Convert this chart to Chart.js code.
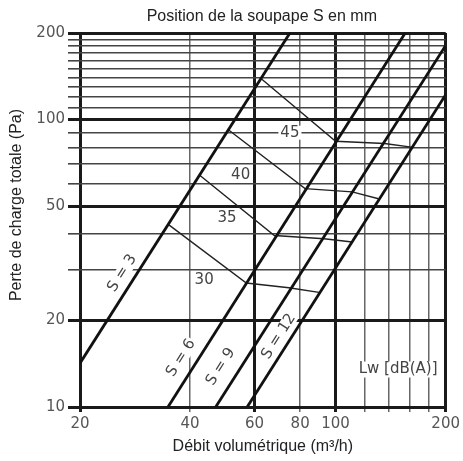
<!DOCTYPE html>
<html>
<head>
<meta charset="utf-8">
<script src="https://cdn.jsdelivr.net/npm/chart.js@4.4.0/dist/chart.umd.min.js"></script>
<style>
  body { margin: 0; background: #fff; }
  canvas { display: block; }
</style>
</head>
<body>
<canvas id="valveChart" width="463" height="461"></canvas>
<script>
// Axis ticks
const flowTicks = [20, 40, 60, 80, 100, 120, 140, 160, 180, 200];
const flowLabels = [20, 40, 60, 80, 100, 200];
const flowMajor = [20, 60, 100, 200];
const pressTicks = [10, 20, 30, 40, 50, 60, 70, 80, 90, 100, 110, 120, 130, 140, 150, 160, 170, 180, 190, 200];
const pressLabels = [10, 20, 50, 100, 200];

// Valve position lines (flow m3/h, pressure Pa)
const s3Flow = [20, 75];
const s3Press = [14.2, 200];
const s6Flow = [34.8, 155];
const s6Press = [10, 200];
const s9Flow = [47, 200];
const s9Press = [10, 181];
const s12Flow = [57.3, 200];
const s12Press = [10, 122];

// Sound power lines Lw dB(A)
const lw45Flow = [62.5, 100, 136, 163];
const lw45Press = [139, 84, 82.5, 80];
const lw40Flow = [51, 82.5, 111, 131];
const lw40Press = [92, 57.5, 56, 53];
const lw35Flow = [42.5, 68, 93, 111];
const lw35Press = [64, 39.5, 38.5, 37.5];
const lw30Flow = [35, 57, 74.5, 91];
const lw30Press = [43, 27, 26, 25];

// Label anchors
const lwNames = ['45', '40', '35', '30'];
const lwLabelFlow = [75, 55, 50.5, 43.7];
const lwLabelPress = [90, 64, 45.5, 27.7];
const sNames = ['S = 3', 'S = 6', 'S = 9', 'S = 12'];
const sLabelFlow = [26.1, 37.8, 48.5, 69.9];
const sLabelPress = [29.2, 14.8, 13.8, 17.6];

function pts(xs, ys) {
    return xs.map((x, i) => ({x: x, y: ys[i]}));
}

const thick = {borderColor: '#111', borderWidth: 2.8, pointRadius: 0, showLine: true};
const thin = {borderColor: '#222', borderWidth: 1.4, pointRadius: 0, showLine: true};

const valveData = {
    datasets: [
        {label: 'S = 3', data: pts(s3Flow, s3Press), ...thick},
        {label: 'S = 6', data: pts(s6Flow, s6Press), ...thick},
        {label: 'S = 9', data: pts(s9Flow, s9Press), ...thick},
        {label: 'S = 12', data: pts(s12Flow, s12Press), ...thick},
        {label: '45', data: pts(lw45Flow, lw45Press), ...thin},
        {label: '40', data: pts(lw40Flow, lw40Press), ...thin},
        {label: '35', data: pts(lw35Flow, lw35Press), ...thin},
        {label: '30', data: pts(lw30Flow, lw30Press), ...thin}
    ]
};

const labelFont = '15px "DejaVu Sans", sans-serif';
const titleFont = '16px "Liberation Sans", Arial, sans-serif';

// Texts drawn on the canvas
const textPlugin = {
    id: 'chartTexts',
    afterDatasetsDraw(chart) {
        const ctx = chart.ctx;
        const xs = chart.scales.x, ys = chart.scales.y;
        const area = chart.chartArea;
        ctx.save();
        ctx.textBaseline = 'middle';

        // Lw labels with white gap in the grid
        ctx.font = labelFont;
        ctx.textAlign = 'center';
        lwNames.forEach((t, i) => {
            const px = xs.getPixelForValue(lwLabelFlow[i]);
            const py = ys.getPixelForValue(lwLabelPress[i]);
            const w = ctx.measureText(t).width;
            ctx.fillStyle = '#fff';
            ctx.fillRect(px - w / 2 - 2, py - 7, w + 4, 14);
            ctx.fillStyle = '#444';
            ctx.fillText(t, px, py);
        });

        // S labels along the lines
        const sLines = [[s3Flow, s3Press], [s6Flow, s6Press], [s9Flow, s9Press], [s12Flow, s12Press]];
        sNames.forEach((t, i) => {
            const f = sLines[i][0], p = sLines[i][1];
            const ang = Math.atan2(
                ys.getPixelForValue(p[1]) - ys.getPixelForValue(p[0]),
                xs.getPixelForValue(f[1]) - xs.getPixelForValue(f[0]));
            ctx.save();
            ctx.translate(xs.getPixelForValue(sLabelFlow[i]), ys.getPixelForValue(sLabelPress[i]));
            ctx.rotate(ang);
            ctx.fillStyle = '#fff';
            const w = ctx.measureText(t).width;
            ctx.fillRect(-w / 2 - 1, -7, w + 2, 14);
            ctx.fillStyle = '#444';
            ctx.fillText(t, 0, 0);
            ctx.restore();
        });

        ctx.textAlign = 'right';
        ctx.fillStyle = '#fff';
        const lw = 'Lw [dB(A)]';
        const lwX = xs.getPixelForValue(190), lwY = ys.getPixelForValue(13.5);
        const lwW = ctx.measureText(lw).width;
        ctx.fillRect(lwX - lwW - 2, lwY - 8, lwW + 4, 16);
        ctx.fillStyle = '#444';
        ctx.fillText(lw, lwX, lwY);

        // Title and axis titles
        ctx.textAlign = 'center';
        ctx.fillStyle = '#222';
        ctx.font = titleFont;
        ctx.fillText('Position de la soupape S en mm', (area.left + area.right) / 2 - 1, 17);
        ctx.fillText('Débit volumétrique (m³/h)', (area.left + area.right) / 2, 447);
        ctx.translate(17, 205);
        ctx.rotate(-Math.PI / 2);
        ctx.fillText('Perte de charge totale (Pa)', 0, 0);
        ctx.restore();
    }
};

const valveConfig = {
    type: 'scatter',
    data: valveData,
    options: {
        responsive: false,
        animation: false,
        layout: {padding: {top: 33, right: 15, left: 0, bottom: 0}},
        plugins: {
            legend: {display: false},
            tooltip: {enabled: false}
        },
        scales: {
            x: {
                type: 'logarithmic',
                min: 20,
                max: 200,
                afterBuildTicks(scale) {
                    scale.ticks = flowTicks.map(v => ({value: v}));
                },
                afterFit(scale) { scale.height = 54; },
                border: {display: false},
                grid: {
                    color: c => flowMajor.includes(c.tick.value) ? '#1a1a1a' : '#666',
                    lineWidth: c => flowMajor.includes(c.tick.value) ? 3 : 1.5,
                    tickLength: 5
                },
                ticks: {
                    autoSkip: false,
                    maxRotation: 0,
                    padding: 3,
                    color: '#555',
                    font: {family: '"DejaVu Sans", sans-serif', size: 15},
                    callback: v => flowLabels.includes(v) ? String(v) : ''
                }
            },
            y: {
                type: 'logarithmic',
                min: 10,
                max: 200,
                afterBuildTicks(scale) {
                    scale.ticks = pressTicks.map(v => ({value: v}));
                },
                afterFit(scale) { scale.width = 80; },
                border: {display: false},
                grid: {
                    color: c => pressLabels.includes(c.tick.value) ? '#1a1a1a' : '#444',
                    lineWidth: c => pressLabels.includes(c.tick.value) ? 3 : 1.6,
                    tickLength: 12
                },
                ticks: {
                    autoSkip: false,
                    padding: 3,
                    color: '#555',
                    font: {family: '"DejaVu Sans", sans-serif', size: 15},
                    callback: v => pressLabels.includes(v) ? String(v) : ''
                }
            }
        }
    },
    plugins: [textPlugin]
};

const valveChart = new Chart(
    document.getElementById('valveChart'),
    valveConfig
);
</script>
</body>
</html>
